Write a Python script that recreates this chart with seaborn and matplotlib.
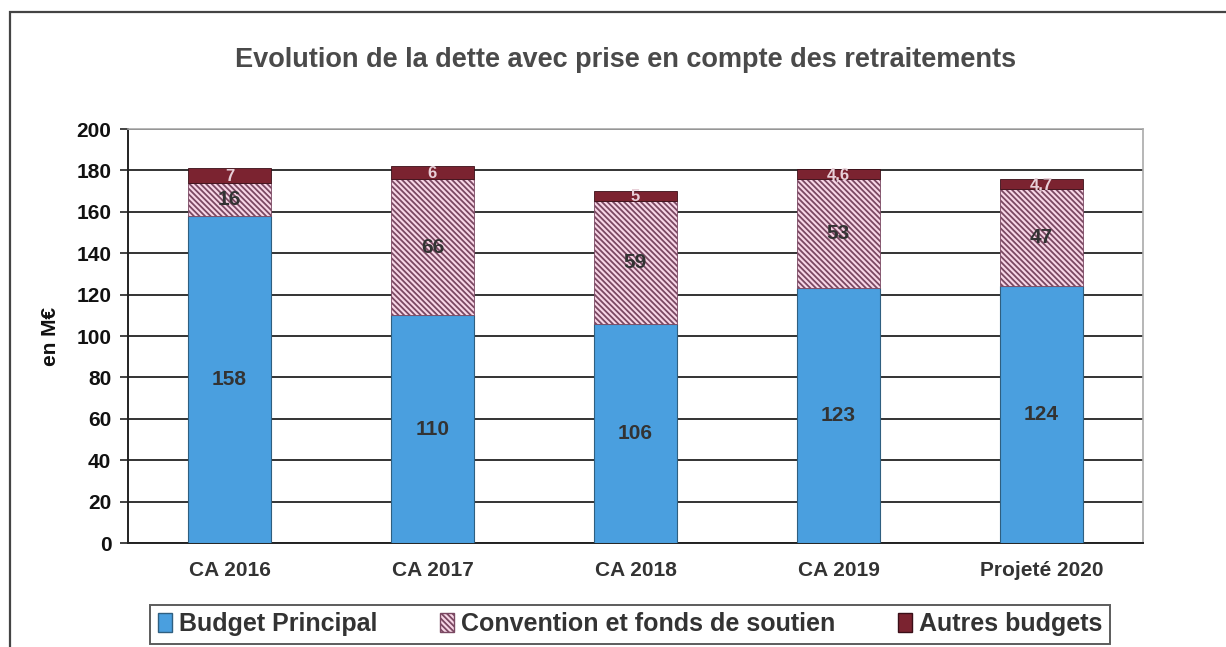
import numpy as np
import pandas as pd
import matplotlib
matplotlib.use("Agg")
import matplotlib.pyplot as plt
import seaborn as sns
from matplotlib.patches import Rectangle, Patch

# ------------------------------------------------------------
# Data (in M€)
# ------------------------------------------------------------
categories = ["CA 2016", "CA 2017", "CA 2018", "CA 2019", "Projeté 2020"]
budget_principal = [158, 110, 106, 123, 124]
convention = [16, 66, 59, 53, 47]
autres = [7, 6, 5, 4.6, 4.7]
autres_labels = ["7", "6", "5", "4,6", "4,7"]
series_names = ["Budget Principal", "Convention et fonds de soutien", "Autres budgets"]
yticks = list(range(0, 201, 20))

sns.set_style("white")
plt.rcParams["font.family"] = ["Liberation Sans", "DejaVu Sans"]
plt.rcParams["font.weight"] = "bold"
plt.rcParams["hatch.linewidth"] = 1.3

blue = "#4a9fdf"
pink = "#f7d6e6"
hatch_col = "#7a4862"
maroon = "#7b2330"
text_col = "#333333"
hatch_pat = "\\" * 6

df = pd.DataFrame({
    "cat": categories,
    "bp": budget_principal,
    "conv": convention,
    "autres": autres,
})
bottom_conv = df["bp"].to_numpy(dtype=float)
bottom_autres = (df["bp"] + df["conv"]).to_numpy(dtype=float)

fig = plt.figure(figsize=(12.26, 6.47), dpi=100)
ax = fig.add_axes([0.1044, 0.1607, 0.8279, 0.6399])

# stacked bars
sns.barplot(data=df, x="cat", y="bp", color=blue, width=0.41,
            edgecolor="#2f5f80", linewidth=0.8, saturation=1, ax=ax, zorder=3)
sns.barplot(data=df, x="cat", y="conv", bottom=bottom_conv, color=pink, width=0.41,
            edgecolor=hatch_col, linewidth=0.6, hatch=hatch_pat, saturation=1,
            ax=ax, zorder=3)
sns.barplot(data=df, x="cat", y="autres", bottom=bottom_autres, color=maroon,
            width=0.41, edgecolor="#3a0f18", linewidth=0.6, saturation=1,
            ax=ax, zorder=3)

# value labels
for i in range(len(categories)):
    ax.text(i, budget_principal[i] / 2, str(budget_principal[i]), ha="center",
            va="center", fontsize=15, fontweight="bold", color=text_col, zorder=5)
    ax.text(i, bottom_conv[i] + convention[i] / 2, str(convention[i]), ha="center",
            va="center", fontsize=15, fontweight="bold", color=text_col, zorder=5)
    ax.text(i, bottom_autres[i] + autres[i] / 2 - 0.3, autres_labels[i], ha="center",
            va="center", fontsize=12, fontweight="bold", color="#e8d0d8", zorder=5)

ax.set_xlim(-0.5, len(categories) - 0.5)
ax.set_ylim(0, 200)
ax.set_yticks(yticks)
ax.set_yticklabels([str(t) for t in yticks], fontsize=15, fontweight="bold",
                   color="#111111")
ax.set_xticks(range(len(categories)))
ax.set_xticklabels(categories, fontsize=15, fontweight="bold", color=text_col)
ax.set_xticks(np.arange(0.5, len(categories) - 0.5, 1), minor=True)
ax.tick_params(axis="x", which="major", length=0, pad=13)
ax.tick_params(axis="x", which="minor", length=6, width=1.2, color="#222222",
               direction="out")
ax.tick_params(axis="y", length=6, width=1.2, color="#222222", direction="out",
               left=True, pad=6)
ax.set_xlabel("")
ax.set_ylabel("en M€", fontsize=15, fontweight="bold", color="#111111", labelpad=12)

ax.grid(axis="y", color="#333333", linewidth=1.4, zorder=0)
ax.set_axisbelow(True)
for side in ["top", "right"]:
    ax.spines[side].set_color("#aaaaaa")
    ax.spines[side].set_linewidth(1.2)
ax.spines["left"].set_color("#222222")
ax.spines["left"].set_linewidth(1.4)
ax.spines["bottom"].set_color("#222222")
ax.spines["bottom"].set_linewidth(1.4)

fig.text(0.510, 0.908, "Evolution de la dette avec prise en compte des retraitements",
         ha="center", va="center", fontsize=19.5, fontweight="bold", color="#4a4a4a")

# legend
handles = [
    Patch(facecolor=blue, edgecolor="#2f5f80", label=series_names[0]),
    Patch(facecolor=pink, edgecolor=hatch_col, hatch=hatch_pat, label=series_names[1]),
    Patch(facecolor=maroon, edgecolor="#3a0f18", label=series_names[2]),
]
leg = fig.legend(handles=handles, loc="center", bbox_to_anchor=(0.514, 0.035),
                 ncol=3, frameon=True, fancybox=False, edgecolor="#333333",
                 prop={"weight": "bold", "size": 18}, handlelength=0.55,
                 handleheight=0.8, handletextpad=0.3, columnspacing=2.5,
                 borderpad=0.3)
leg.get_frame().set_linewidth(1.4)
for t in leg.get_texts():
    t.set_color("#333333")

# outer chart border
fig.patches.append(Rectangle((10 / 1226, -0.1), 1.2, 1.1 - 12 / 647,
                             transform=fig.transFigure, fill=False,
                             edgecolor="#444444", linewidth=1.6))

fig.savefig("out.png", dpi=100)
